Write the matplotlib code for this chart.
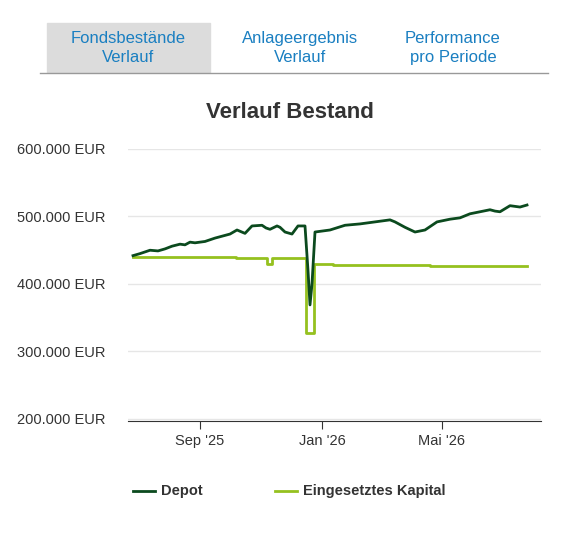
import matplotlib
matplotlib.use("Agg")
import matplotlib.pyplot as plt
import numpy as np
from matplotlib.patches import Rectangle
from matplotlib.lines import Line2D

plt.rcParams['font.family'] = ['Liberation Sans', 'DejaVu Sans']

base = np.datetime64("2025-09-01")
depot_days = [-67,-60,-50,-42,-35,-28,-20,-15,-10,-5,5,15,25,30,37,45,52,62,66,70,77,80,85,92,98,103,105,108,110,112,115,130,145,160,175,190,195,205,215,225,237,250,260,270,280,290,295,300,310,320,327]
depot_vals = [442,445,450,449,452,456,459,458,462,461,463,468,472,474,480,475,486,487,483,481,486,484,477,474,486,486,486,420,369,400,477,480,487,489,492,495,492,484,477,480,492,496,498,504,507,510,508,507,516,514,517]
kap_days = [-67,36,67,72,105,106,113,114,133,230,327]
kap_vals = [440,438,430,438,438,327,327,430,428,427,427]

d_dates = base + np.array(depot_days).astype("timedelta64[D]")
k_dates = base + np.array(kap_days).astype("timedelta64[D]")
depot = np.array(depot_vals) * 1000
kap = np.array(kap_vals) * 1000

fig = plt.figure(figsize=(5.62, 5.33), dpi=100)
fig.patch.set_facecolor("white")
ax = fig.add_axes([128/562, 1-421/533, 413/562, 272/533])
dark = "#0b4a1e"; light = "#95c11f"
ax.plot(k_dates, kap, color=light, lw=2, drawstyle="steps-post")
ax.plot(d_dates, depot, color=dark, lw=2)
ax.set_ylim(197000, 600000)
ax.set_xlim(base + np.timedelta64(-72, "D"), base + np.timedelta64(341, "D"))
ax.set_yticks([200000, 300000, 400000, 500000, 600000])
ax.set_yticklabels(["200.000 EUR", "300.000 EUR", "400.000 EUR", "500.000 EUR", "600.000 EUR"])
ax.set_xticks([np.datetime64("2025-09-01"), np.datetime64("2026-01-01"), np.datetime64("2026-05-01")])
ax.set_xticklabels(["Sep '25", "Jan '26", "Mai '26"])
ax.grid(axis="y", color="#e6e6e6", lw=1)
for s in ["top", "right", "left"]:
    ax.spines[s].set_visible(False)
ax.spines["bottom"].set_color("#333333")
ax.tick_params(axis="y", length=0, labelsize=10.5, colors="#333333", pad=16)
ax.tick_params(axis="x", length=6, labelsize=10.5, colors="#333333", direction="out")
ax.set_axisbelow(True)

fig.text(290/562, 1-112/533, "Verlauf Bestand", ha="center", va="center", fontsize=16, fontweight="bold", color="#333333")
fig.patches.append(Rectangle((47/562, 1-72/533), 163/562, 49/533, transform=fig.transFigure, color="#dcdcdc", zorder=0))
fig.add_artist(Line2D([40/562, 548/562], [1-73/533]*2, color="#999999", lw=1))
blue = "#1a7fc1"
for x, t in [(128, "Fondsbestände\nVerlauf"), (300, "Anlageergebnis\nVerlauf"), (453, "Performance\npro Periode")]:
    fig.text(x/562, 1-48/533, t, ha="center", va="center", fontsize=12, color=blue, linespacing=1.3)

for x0, col, t in [(133, dark, "Depot"), (275, light, "Eingesetztes Kapital")]:
    fig.add_artist(Line2D([x0/562, (x0+22)/562], [1-491/533]*2, color=col, lw=2))
    fig.text((x0+28)/562, 1-491/533, t, ha="left", va="center", fontsize=10.5, fontweight="bold", color="#333333")

fig.savefig("out.png", dpi=100)
